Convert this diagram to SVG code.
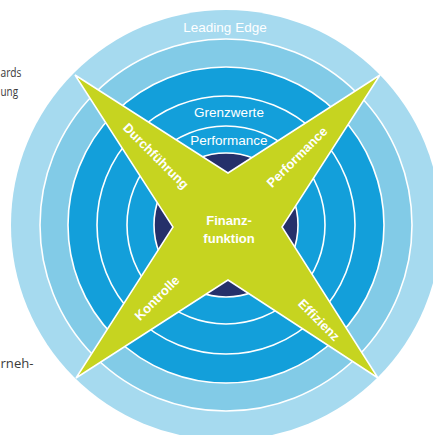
<svg xmlns="http://www.w3.org/2000/svg" width="433" height="435" viewBox="0 0 433 435">
  <style>
    .ring { stroke: #ffffff; stroke-width: 1.6; }
    .ringlbl { font-family: "Liberation Sans", Arial, sans-serif; font-size: 13.5px; fill: #ffffff; text-anchor: middle; }
    .armlbl { font-family: "Liberation Sans", Arial, sans-serif; font-size: 13px; font-weight: bold; fill: #ffffff; text-anchor: middle; }
    .side { font-family: "Open Sans", "Liberation Sans", sans-serif; font-size: 13.5px; fill: #3a3a3a; text-anchor: start; }
  </style>
  <rect width="433" height="435" fill="#ffffff"/>

  <g id="rings">
    <circle cx="226" cy="225" r="215" fill="#a6daef"/>
    <circle class="ring" cx="226" cy="225" r="186" fill="#82cbe7" stroke-width="1.1"/>
    <circle class="ring" cx="226" cy="225" r="158" fill="#139fda"/>
    <circle class="ring" cx="226" cy="225" r="129" fill="#139fda"/>
    <circle class="ring" cx="226" cy="225" r="99" fill="#139fda"/>
    <circle class="ring" cx="226" cy="225" r="72" fill="#25306a" stroke-width="1.2"/>
  </g>

  <g id="ring-labels">
    <text class="ringlbl" x="225" y="32" font-size="14">Leading Edge</text>
    <text class="ringlbl" x="229" y="117">Grenzwerte</text>
    <text class="ringlbl" x="229" y="145">Performance</text>
  </g>

  <g id="finanzfunktion">
    <path d="M75,75 L228,173 L380,75 L282,227 L378,378 L228,280 L76,378 L173,227 Z" fill="#c6d420" stroke="#ffffff" stroke-width="1.5" stroke-linejoin="miter"/>
    <text class="armlbl" x="229" y="225" font-size="13.5">Finanz-</text>
    <text class="armlbl" x="229" y="243" font-size="13.5">funktion</text>
  </g>

  <g id="arm-durchfuehrung" transform="translate(156,156) rotate(45)">
    <text class="armlbl" x="0" y="4.5">Durchführung</text>
  </g>
  <g id="arm-performance" transform="translate(297,157) rotate(-45)">
    <text class="armlbl" x="0" y="4.5">Performance</text>
  </g>
  <g id="arm-kontrolle" transform="translate(157,298) rotate(-45)">
    <text class="armlbl" x="0" y="4.5">Kontrolle</text>
  </g>
  <g id="arm-effizienz" transform="translate(319,320) rotate(45)">
    <text class="armlbl" x="0" y="4.5">Effizienz</text>
  </g>

  <g id="side-text">
    <text class="side" x="0.5" y="77" textLength="21" lengthAdjust="spacingAndGlyphs">ards</text>
    <text class="side" x="0.5" y="96" textLength="17.5" lengthAdjust="spacingAndGlyphs">ung</text>
    <text class="side" x="0.5" y="368" textLength="33" lengthAdjust="spacingAndGlyphs">rneh-</text>
  </g>
</svg>
